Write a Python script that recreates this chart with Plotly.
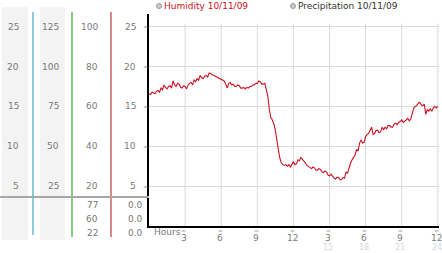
import plotly.graph_objects as go

W, H = 442, 253

# ---- data ----
humidity = [
    16.6, 16.5, 16.8, 16.7, 16.6, 16.9, 17.0, 16.8,
    17.3, 17.1, 17.7, 17.4, 17.2, 17.5, 17.6, 17.3,
    18.2, 17.7, 17.5, 17.9, 17.8, 17.4, 17.3, 17.6,
    17.5, 17.2, 17.7, 17.9, 18.0, 17.7, 18.3, 18.1,
    18.5, 18.3, 18.9, 18.6, 18.5, 18.8, 18.9, 18.7,
    19.2, 19.1, 19.0, 18.9, 18.8, 18.7, 18.6, 18.5,
    18.4, 18.3, 18.2, 17.8, 17.3, 17.9, 18.0, 17.7,
    17.8, 17.5, 17.5, 17.7, 17.6, 17.3, 17.3, 17.4,
    17.2, 17.4, 17.3, 17.5, 17.5, 17.7, 17.7, 17.9,
    17.9, 18.2, 18.1, 17.8, 17.8, 17.9, 17.2, 16.3,
    14.6, 13.6, 13.3, 12.8, 12.0, 10.5, 9.6, 8.5,
    7.9, 7.7, 7.6, 7.7, 7.5, 7.7, 7.4, 7.7,
    8.1, 7.7, 7.8, 8.3, 8.2, 8.6, 8.4, 8.1,
    7.9, 7.6, 7.5, 7.3, 7.2, 7.4, 7.3, 7.0,
    7.0, 7.2, 7.1, 6.8, 6.7, 6.9, 6.8, 6.4,
    6.3, 6.5, 6.2, 6.0, 5.9, 6.1, 6.1, 5.8,
    5.8, 6.1, 6.0, 6.8, 6.6, 7.4, 7.9, 8.3,
    8.6, 8.9, 9.6, 9.4, 10.4, 10.8, 10.4, 10.5,
    11.2, 11.5, 11.6, 12.1, 12.4, 11.5, 11.6, 12.0,
    12.0, 11.7, 11.8, 12.4, 12.1, 12.4, 12.2, 12.6,
    12.6, 12.4, 12.4, 12.8, 12.9, 12.7, 13.0, 13.1,
    13.3, 13.0, 13.1, 13.3, 13.5, 13.2, 13.4, 14.1,
    14.8, 15.0, 15.1, 15.4, 15.5, 15.2, 15.1, 15.3,
    14.0, 14.6, 14.4, 14.7, 14.4, 14.8, 15.0, 14.8,
    15.0,
]
hours = [i / 8 for i in range(len(humidity))]
y_ticks = [5, 10, 15, 20, 25]
col1_labels = ["5", "10", "15", "20", "25"]
col2_labels = ["25", "50", "75", "100", "125"]
col3_labels = ["20", "40", "60", "80", "100"]
col4_labels = ["5", "10", "15", "20", "25"]
x_ticks = [3, 6, 9, 12, 15, 18, 21, 24]
x_labels = ["3", "6", "9", "12", "3", "6", "9", "12"]
x_labels2 = ["", "", "", "", "15", "18", "21", "24"]
extra_col3 = ["77", "60", "22"]
extra_col4 = ["0.0", "0.0", "0.0"]
legend_items = ["Humidity 10/11/09", "Precipitation 10/11/09"]


def px(x):
    return x / W


def py(y):
    return 1 - y / H


FONT = "DejaVu Sans"
fig = go.Figure()
fig.add_trace(go.Scatter(x=hours, y=humidity, mode="lines",
                         line=dict(color="#cc1122", width=1.1),
                         showlegend=False, hoverinfo="skip"))

shapes = []
annotations = []

# left panel shaded columns
for x0, x1 in [(2, 28), (40, 65)]:
    shapes.append(dict(type="rect", xref="paper", yref="paper", x0=px(x0), x1=px(x1),
                       y0=py(240), y1=py(7), fillcolor="#f3f3f3", line_width=0, layer="below"))
# coloured separators
for xx, col, yb in [(33, "#3fa6c8", 235), (72, "#3aa63a", 237), (111, "#c03a3a", 237)]:
    shapes.append(dict(type="line", xref="paper", yref="paper", x0=px(xx), x1=px(xx),
                       y0=py(yb), y1=py(12), line=dict(color=col, width=1.2)))
# gray horizontal line
shapes.append(dict(type="line", xref="paper", yref="paper", x0=0, x1=px(149),
                   y0=py(197), y1=py(197), line=dict(color="#a8a8a8", width=2)))
# vertical grid lines
for t in x_ticks:
    shapes.append(dict(type="line", xref="x", yref="y", x0=t, x1=t, y0=0, y1=25.4,
                       line=dict(color="#dadada", width=1), layer="below"))

lab_font = dict(family=FONT, size=9, color="#7a7a7a")
small_font = dict(family=FONT, size=6, color="#a0a0a0")
for v, a, b, c, d in zip(y_ticks, col1_labels, col2_labels, col3_labels, col4_labels):
    for txt, xr in [(a, 21), (b, 61), (c, 100), (d, 138)]:
        annotations.append(dict(text=txt, xref="paper", yref="y", x=px(xr), y=v,
                                xanchor="right", yanchor="middle", showarrow=False,
                                font=lab_font))
    annotations.append(dict(text="≈", xref="paper", yref="y", x=px(145), y=v,
                            xanchor="center", yanchor="middle", showarrow=False,
                            font=small_font))

for i, (c, d) in enumerate(zip(extra_col3, extra_col4)):
    yy = 204.5 + 14 * i
    annotations.append(dict(text=c, xref="paper", yref="paper", x=px(100), y=py(yy),
                            xanchor="right", yanchor="middle", showarrow=False, font=lab_font))
    annotations.append(dict(text=d, xref="paper", yref="paper", x=px(145), y=py(yy),
                            xanchor="right", yanchor="middle", showarrow=False, font=lab_font))

# x labels
annotations.append(dict(text="Hours", xref="paper", yref="paper", x=px(152), y=py(231.5),
                        xanchor="left", yanchor="middle", showarrow=False, font=lab_font))
for t, l1, l2 in zip(x_ticks, x_labels, x_labels2):
    annotations.append(dict(text="≈", xref="x", yref="paper", x=t - 0.1, y=py(230),
                            xanchor="center", yanchor="middle", showarrow=False,
                            font=small_font))
    annotations.append(dict(text=l1, xref="x", yref="paper", x=t - 0.1, y=py(238),
                            xanchor="center", yanchor="middle", showarrow=False, font=lab_font,
                            borderpad=0))
    if l2:
        annotations.append(dict(text=l2, xref="x", yref="paper", x=t - 0.1, y=py(247.5),
                                xanchor="center", yanchor="middle", showarrow=False,
                                borderpad=0,
                                font=dict(family=FONT, size=8, color="#d8d8d8")))

# legend
for (cx, tx, col), txt in zip([(159, 162, "#cc1122"), (293, 296, "#333333")], legend_items):
    shapes.append(dict(type="circle", xref="paper", yref="paper", x0=px(cx - 2.5), x1=px(cx + 2.5),
                       y0=py(8.5), y1=py(3.5), fillcolor="#cccccc", line=dict(color="#999999", width=1)))
    annotations.append(dict(text=txt, xref="paper", yref="paper", x=px(tx), y=py(6),
                            xanchor="left", yanchor="middle", showarrow=False,
                            font=dict(family=FONT, size=9, color=col)))

fig.update_layout(
    width=W, height=H, margin=dict(l=0, r=0, t=0, b=0),
    paper_bgcolor="white", plot_bgcolor="white",
    shapes=shapes, annotations=annotations,
    xaxis=dict(domain=[px(149), px(439)], range=[0, 24.1], showgrid=False, zeroline=False,
               showticklabels=False, showline=True, linecolor="black", linewidth=2, ticks=""),
    yaxis=dict(domain=[py(226), py(14)], range=[0, 26.6], tickvals=y_ticks, showgrid=True,
               gridcolor="#dadada", zeroline=False, showticklabels=False, showline=True,
               linecolor="black", linewidth=1.5, ticks=""),
)
fig.write_html("out.html")
